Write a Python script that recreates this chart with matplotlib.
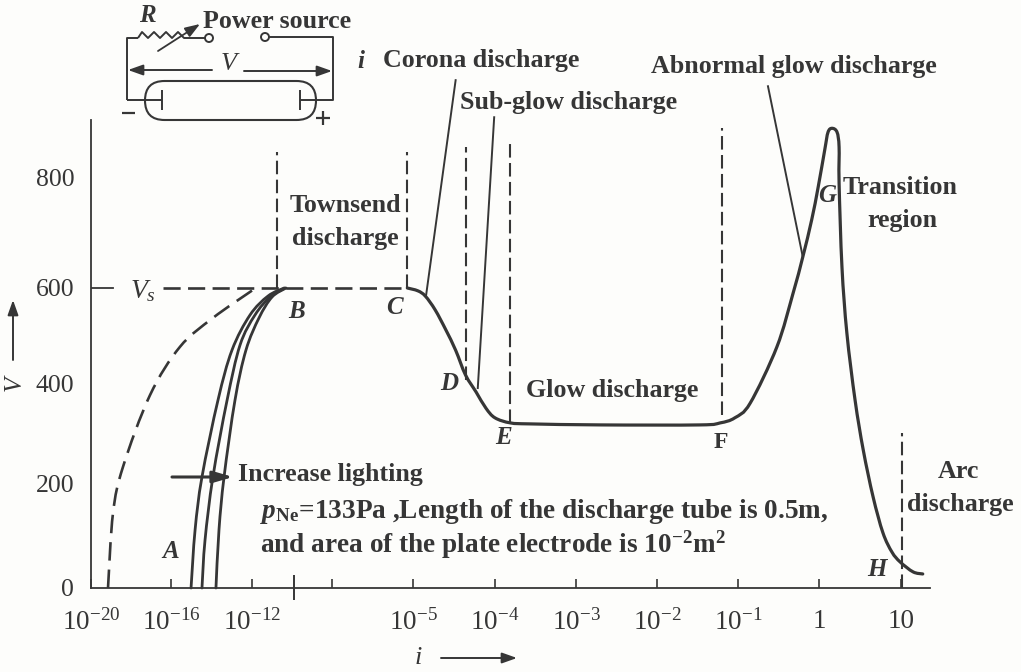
import numpy as np
import matplotlib
matplotlib.use("Agg")
import matplotlib.pyplot as plt
from matplotlib.patches import FancyBboxPatch, Circle, PathPatch
from matplotlib.path import Path
from matplotlib.transforms import IdentityTransform
from matplotlib.ticker import FixedLocator, FixedFormatter

plt.rcParams.update({
    "font.family": ["Liberation Serif", "DejaVu Serif"],
    "mathtext.fontset": "custom",
    "mathtext.rm": "Liberation Serif",
    "mathtext.it": "Liberation Serif:italic",
    "mathtext.bf": "Liberation Serif:bold",
    "mathtext.bfit": "Liberation Serif:italic:bold",
})

# ---- data: x is log10(i), y is V ----
x_ticks = [-20, -16, -12, -6, -5, -4, -3, -2, -1, 0, 1]
x_labels = [r"$10^{-20}$", r"$10^{-16}$", r"$10^{-12}$", "", r"$10^{-5}$", r"$10^{-4}$",
            r"$10^{-3}$", r"$10^{-2}$", r"$10^{-1}$", "1", "10"]
y_ticks = [0, 200, 400, 600, 800]

main_x = [-5.07, -4.94, -4.85, -4.73, -4.60, -4.48, -4.36, -4.23, -4.11, -4.0, -3.81, -3.56, -2.69, -1.47,
          -1.22, -1.04, -0.85, -0.52, -0.32, -0.20, -0.09, -0.01, 0.07, 0.11, 0.16, 0.22, 0.245, 0.245, 0.28,
          0.34, 0.44, 0.54, 0.66, 0.78, 0.89, 0.99, 1.15, 1.27]
main_v = [600, 594, 583, 554, 512, 469, 417, 382, 350, 331, 321, 319, 317, 317,
          321, 331, 360, 476, 589, 656, 723, 782, 849, 881, 888, 881, 854, 789, 638,
          505, 366, 267, 175, 106, 69, 50, 31, 27]

dark_x = [-19.15, -18.9, -18.4, -17.05, -15.56, -13.93, -11.93]
dark_v = [0, 144, 234, 376, 476, 537, 596]
lit1_x = [-15.01, -14.81, -14.47, -13.68, -12.99, -12.1, -10.86, -9.71]
lit2_x = [-14.47, -14.32, -13.93, -13.23, -12.59, -11.79, -10.71, -9.64]
lit3_x = [-13.78, -13.63, -13.38, -12.84, -12.3, -11.5, -10.57, -9.57]
lit_v1 = [0, 112, 214, 366, 469, 543, 583, 600]
lit_v2 = [0, 92, 214, 366, 480, 543, 581, 600]
lit_v3 = [0, 112, 214, 366, 469, 537, 581, 600]

# region boundaries: (x, V bottom, V top)
bound_x = [-10.21, -5.07, -4.35, -3.81, -1.2, 1.01]
bound_lo = [600, 600, 406, 321, 337, 0]
bound_hi = [845, 845, 854, 863, 888, 301]
vs_level = 600
vs_span = [-16.4, -5.07]

# leader lines
corona_x, corona_v = [-4.48, -4.84], [975, 585]
subglow_x, subglow_v = [-4.01, -4.21], [908, 390]
abnormal_x, abnormal_v = [-0.63, -0.20], [964, 656]

# ---- axis mapping of the printed (uneven) scales ----
XK = np.array([-20, -16, -12, -9, -6, -5, -4, -3, -2, -1, 0, 1, 1.36])
XP = np.array([91, 171, 252, 294, 332, 413, 495, 576, 657, 738, 819, 901, 930.])
YK = np.array([-200, 0, 200, 400, 600, 800, 903., 1203.])
YP = np.array([-104, 0, 104, 205, 300, 411, 468., 634.])

def xf(v): return np.interp(v, XK, XP)
def xi(p): return np.interp(p, XP, XK)
def yf(v): return np.interp(v, YK, YP)
def yi(p): return np.interp(p, YP, YK)

W, H = 1021, 672
INK = "#363636"
BG = "#fdfdfb"
fig = plt.figure(figsize=(W / 100, H / 100), dpi=100, facecolor=BG)
ax = fig.add_axes([91 / W, 1 - 588 / H, (930 - 91) / W, 468 / H], facecolor="none")
ax.set_xscale("function", functions=(xf, xi))
ax.set_yscale("function", functions=(yf, yi))
ax.set_xlim(-20, 1.36)
ax.set_ylim(0, 903)
for s in ("top", "right"):
    ax.spines[s].set_visible(False)
for s in ("left", "bottom"):
    ax.spines[s].set_color(INK)
    ax.spines[s].set_linewidth(1.3)
ax.xaxis.set_major_locator(FixedLocator(x_ticks))
ax.xaxis.set_major_formatter(FixedFormatter(x_labels))
ax.xaxis.set_minor_locator(FixedLocator([]))
ax.yaxis.set_major_locator(FixedLocator(y_ticks))
ax.yaxis.set_minor_locator(FixedLocator([]))
ax.tick_params(axis="x", direction="in", length=6.5, width=1.2, color=INK, labelcolor=INK,
               labelsize=19.5, pad=15)
ax.tick_params(axis="y", length=0, labelcolor=INK, labelsize=18.5, pad=12)
ax.tick_params(axis="x", which="minor", length=0)


def smooth(xs, ys, lw, ls="-", capstyle="round"):
    """Draw a curve through the read values with cubic segments, via the axes' own scales."""
    p = ax.transData.transform(np.column_stack([xs, ys]))
    verts = [p[0]]
    codes = [Path.MOVETO]
    n = len(p)
    for i in range(n - 1):
        a = p[max(i - 1, 0)]
        b = p[i]
        c = p[i + 1]
        d = p[min(i + 2, n - 1)]
        verts += [b + (c - a) / 6, c - (d - b) / 6, c]
        codes += [Path.CURVE4] * 3
    ax.add_patch(PathPatch(Path(verts, codes), transform=IdentityTransform(), fc="none", ec=INK, lw=lw,
                           ls=ls, capstyle=capstyle, joinstyle="round", clip_on=False))


ax.plot([-20, -18.9], [vs_level, vs_level], color=INK, lw=1.3)
dash = (0, (6.5, 2.6))
smooth(main_x, main_v, 2.3)
smooth(lit1_x, lit_v1, 2.0)
smooth(lit2_x, lit_v2, 2.0)
smooth(lit3_x, lit_v3, 2.0)
smooth(dark_x, dark_v, 1.9, ls=(0, (7, 3.4)), capstyle="butt")
ax.plot(vs_span, [vs_level, vs_level], lw=1.9, color=INK, ls=(0, (6.5, 2.8)))
for bx, lo, hi in zip(bound_x, bound_lo, bound_hi):
    ax.plot([bx, bx], [lo, hi], lw=1.5, color=INK, ls=dash, clip_on=False)
for lx, lv in ((corona_x, corona_v), (subglow_x, subglow_v), (abnormal_x, abnormal_v)):
    ax.plot(lx, lv, lw=1.4, color=INK, clip_on=False)

# overlay for the circuit inset and labels, in image pixels
ov = fig.add_axes([0, 0, 1, 1], facecolor="none")
ov.set_xlim(0, W)
ov.set_ylim(H, 0)
ov.axis("off")


def T(x, y, s, size=18.7, weight="bold", style="normal", ha="left", **kw):
    ov.text(x, y, s, fontsize=size, fontweight=weight, fontstyle=style, ha=ha, va="center",
            color=INK, **kw)


def seg(xs, ys, lw=1.4):
    ov.plot(xs, ys, color=INK, lw=lw, solid_capstyle="butt")


def arr(x0, y0, x1, y1, lw=1.4, hl=0.9, hw=0.32):
    ov.annotate("", xy=(x1, y1), xytext=(x0, y0),
                arrowprops=dict(arrowstyle=f"-|>,head_length={hl},head_width={hw}", color=INK, lw=lw,
                                shrinkA=0, shrinkB=0))


seg([294, 294], [575, 600], lw=1.4)

# circuit
seg([127, 127, 138], [100, 38, 38]); seg([127, 162], [100, 100])
seg([138, 142, 148, 154, 160, 166, 172, 178, 184, 188, 205],
    [38, 32, 38, 32, 38, 32, 38, 32, 38, 38, 38])
seg([269, 333, 333, 300], [37, 37, 100, 100])
seg([162, 162], [90, 110]); seg([300, 300], [90, 110])
ov.add_patch(Circle((209, 38), 4, fc=BG, ec=INK, lw=1.4))
ov.add_patch(Circle((265, 37), 4, fc=BG, ec=INK, lw=1.4))
ov.add_patch(FancyBboxPatch((145, 81), 171, 39, boxstyle="round,pad=0,rounding_size=19.5",
                            fc="none", ec=INK, lw=1.5))
arr(158, 51, 200, 24, lw=1.3)
arr(212, 70, 128, 70)
arr(244, 71, 332, 71)
seg([122, 135], [113, 113], lw=1.6)
seg([316, 330], [118, 118], lw=1.6); seg([323, 323], [111, 125], lw=1.6)
T(147, 16, "R", size=18, style="italic", ha="center")
T(229, 64, "V", size=19, weight="normal", style="italic", ha="center")
T(203, 21, "Power source")
T(357, 61, "i", size=18, style="italic")

# regions
T(383, 61, "Corona discharge")
T(460, 103, "Sub-glow discharge")
T(651, 66, "Abnormal glow discharge")
T(345, 205, "Townsend", ha="center")
T(345, 238, "discharge", ha="center")
T(843, 188, "Transition")
T(902, 220, "region", ha="center")
T(526, 391, "Glow discharge")
T(958, 471, "Arc", ha="center")
T(960, 504, "discharge", ha="center")
T(238, 474, "Increase lighting")
T(260, 512, r"$\mathbfit{p}_{\mathbf{Ne}}$=133Pa ,Length of the discharge tube is 0.5m,", size=19.6)
T(260, 545, r"and area of the plate electrode is 10$^{\mathbf{-2}}$m$^{\mathbf{2}}$", size=19.6)

# letters
for x, y, s in [(171, 552, "A"), (297, 311, "B"), (394, 308, "C"), (449, 384, "D"), (503, 437, "E"),
                (827, 195, "G"), (877, 570, "H")]:
    T(x, y, s, size=18, style="italic", ha="center")
T(721, 442, "F", size=17, ha="center")
T(143, 291, r"$\mathit{V}_{\mathbf{\mathit{s}}}$", size=20, weight="normal", ha="center")

# axis names
ov.text(15, 383, "V", fontsize=18, fontstyle="italic", rotation=90, ha="center", va="center", color=INK)
arr(13, 360, 13, 300, lw=1.4)
T(418, 658, "i", size=19, weight="normal", style="italic", ha="center")
arr(441, 658, 517, 658)
arr(172, 477, 233, 477, lw=2.2, hl=1.2, hw=0.35)

fig.savefig("out.png", dpi=100, facecolor=BG)
